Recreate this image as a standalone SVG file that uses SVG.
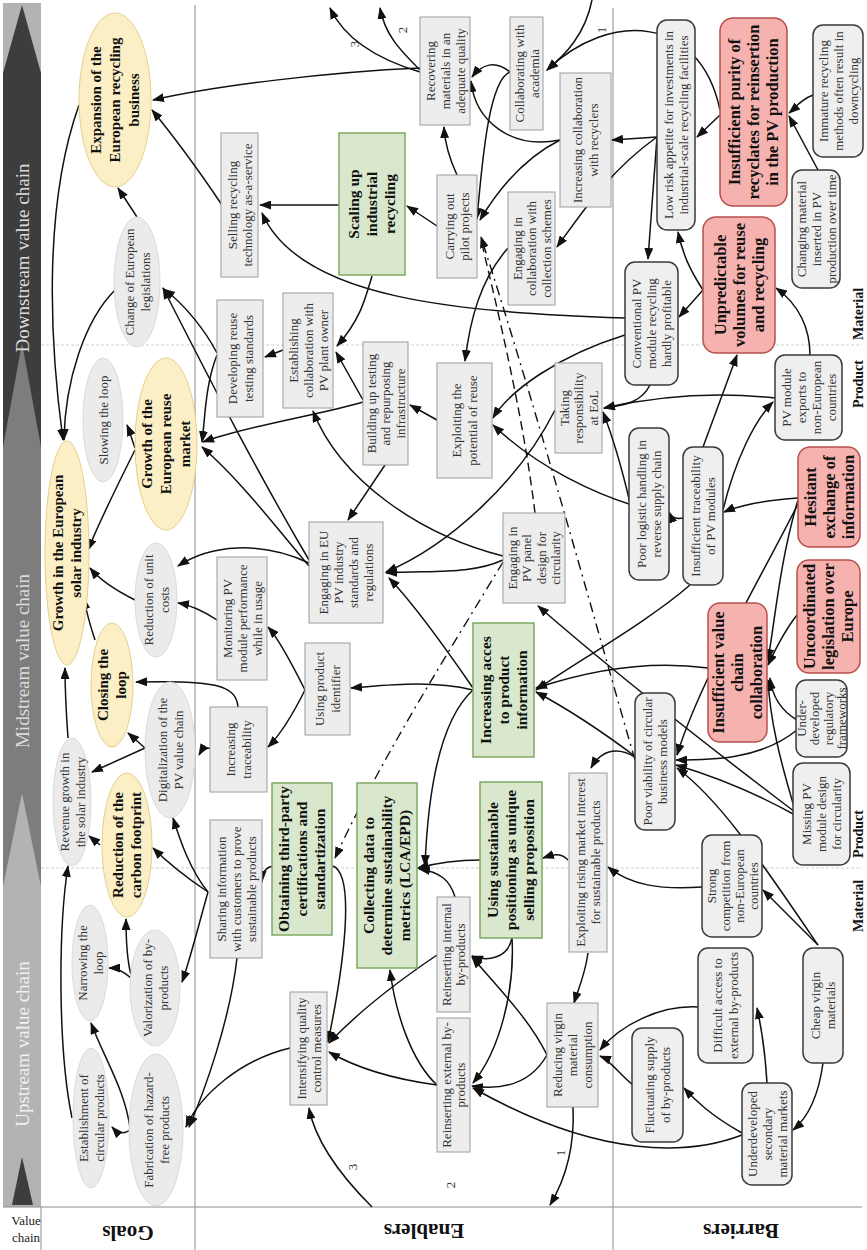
<svg xmlns="http://www.w3.org/2000/svg" width="867" height="1250" viewBox="0 0 867 1250">
<defs>
<style>
text{font-family:"Liberation Serif","Times New Roman",serif;text-anchor:middle}
.t{font-size:13px;fill:#333}
.tb{font-size:15.5px;font-weight:bold;fill:#111}
.ty{font-size:15px;font-weight:bold;fill:#111}
.tr{font-size:16.5px;font-weight:bold;fill:#111}
.ge{fill:#ebebeb;stroke:#dadada;stroke-width:1}
.gy{fill:#fcefc6;stroke:#e3d18f;stroke-width:1}
.eb{fill:#ededed;stroke:#9c9c9c;stroke-width:1}
.gb{fill:#d9e8cd;stroke:#7fa862;stroke-width:1.5}
.bb{fill:#efefef;stroke:#3a3a3a;stroke-width:1.5}
.rb{fill:#f6b2af;stroke:#b8504c;stroke-width:1.5}
.c{fill:none;stroke:#111;stroke-width:1.5;marker-end:url(#ah)}
.dd{fill:none;stroke:#111;stroke-width:1.4;stroke-dasharray:10,5,2,5}
.ds{fill:none;stroke:#111;stroke-width:1.4;stroke-dasharray:9,5}
.vc{font-size:19px;fill:#dcdcdc}
.hd{font-size:21px;font-weight:bold;fill:#111}
.rw{font-size:14px;font-weight:bold;fill:#111}
.grid{stroke:#8c8c8c;stroke-width:1}
.row{stroke:#cfcfcf;stroke-width:1;stroke-dasharray:3,2}
</style>
<marker id="ah" viewBox="0 0 12 9" refX="11" refY="4.5" markerWidth="12" markerHeight="9" markerUnits="userSpaceOnUse" orient="auto"><path d="M0,0 L12,4.5 L0,9 z" fill="#111"/></marker>
</defs>
<rect width="867" height="1250" fill="#fff"/>

<!-- value chain strip -->
<g id="value-chain">
<rect x="3" y="3" width="38" height="70" fill="#b3b3b3"/>
<polygon points="22,5 41,73 3,73" fill="#3d3d3d"/>
<rect x="3" y="73" width="38" height="374" fill="#3d3d3d"/>
<polygon points="22,343 41,447 41,887 3,887 3,447" fill="#7d7d7d"/>
<polygon points="22,793 41,887 41,1207 3,1207 3,887" fill="#b3b3b3"/>
<polygon points="22,1157 33,1205 12,1205" fill="#3d3d3d"/>
<text class="vc" transform="translate(29,258) rotate(-90)">Downstream value chain</text>
<text class="vc" transform="translate(29,661) rotate(-90)">Midstream value chain</text>
<text class="vc" transform="translate(29,1044) rotate(-90)" style="fill:#f0f0f0">Upstream value chain</text>
</g>

<!-- table grid -->
<g id="grid">
<line class="grid" x1="195" y1="5" x2="195" y2="1250"/>
<line class="grid" x1="613" y1="8" x2="613" y2="1250"/>
<line class="grid" x1="3" y1="1207" x2="862" y2="1207"/>
<line class="grid" x1="41" y1="1207" x2="41" y2="1250"/>
<line class="row" x1="41" y1="345" x2="862" y2="345"/>
<line class="row" x1="41" y1="868" x2="862" y2="868"/>
<text class="t" x="26" y="1225" style="fill:#222">Value</text>
<text class="t" x="26" y="1242" style="fill:#222">chain</text>
<text class="hd" transform="translate(128,1233) rotate(180)" y="7">Goals</text>
<text class="hd" transform="translate(424,1231) rotate(180)" y="7">Enablers</text>
<text class="hd" transform="translate(741,1231) rotate(180)" y="7">Barriers</text>
<text class="rw" transform="translate(858,314) rotate(-90)" y="5">Material</text>
<text class="rw" transform="translate(858,384) rotate(-90)" y="5">Product</text>
<text class="rw" transform="translate(858,834) rotate(-90)" y="5">Product</text>
<text class="rw" transform="translate(858,906) rotate(-90)" y="5">Material</text>
</g>

<!-- connectors -->
<g id="connectors">
<path class="c" d="M420,68 C330,72 220,85 153,100"/>
<path class="c" d="M222,205 Q185,150 152,110"/>
<path class="c" d="M137,217 L118,188"/>
<path class="c" d="M79,105 C45,200 48,330 63,440"/>
<path class="c" d="M115,290 C85,320 65,380 64,440"/>
<path class="c" d="M339,205 L260,205"/>
<path class="c" d="M625,318 C460,312 300,300 262,213"/>
<path class="c" d="M420,72 C380,60 345,40 330,8"/>
<path class="c" d="M420,70 C400,50 385,35 380,8"/>
<path class="c" d="M592,0 C585,35 565,55 547,70"/>
<path class="c" d="M720,110 C700,15 610,10 547,70"/>
<path class="c" d="M720,115 L697,137"/>
<path class="c" d="M813,95 C800,100 795,108 789,113"/>
<path class="c" d="M818,170 L789,116"/>
<path class="c" d="M657,137 L612,140"/>
<path class="c" d="M657,137 C610,170 580,215 557,247"/>
<path class="c" d="M657,137 L648,259"/>
<path class="c" d="M703,290 C690,270 683,255 678,232"/>
<path class="c" d="M703,290 L679,317"/>
<path class="c" d="M625,335 C560,355 510,390 493,418"/>
<path class="c" d="M650,385 C640,405 620,405 604,408"/>
<path class="c" d="M775,398 C700,390 640,400 604,408"/>
<path class="c" d="M810,355 C810,330 800,305 776,288"/>
<path class="c" d="M630,503 C620,460 610,430 603,412"/>
<path class="c" d="M632,505 C600,495 540,470 493,425"/>
<path class="c" d="M683,518 Q672,520 669,512"/>
<path class="c" d="M703,447 L737,355"/>
<path class="c" d="M723,510 C735,460 755,420 773,402"/>
<path class="c" d="M798,498 C770,500 740,505 724,512"/>
<path class="c" d="M798,500 C780,560 775,620 768,660"/>
<path class="c" d="M797,615 C785,630 775,650 768,665"/>
<path class="c" d="M797,720 C780,710 772,695 770,678"/>
<path class="c" d="M795,810 C780,760 770,720 768,680"/>
<path class="c" d="M797,730 C760,760 710,760 676,760"/>
<path class="c" d="M795,815 C750,790 710,775 676,765"/>
<path class="c" d="M800,500 C760,580 700,680 677,755"/>
<path class="c" d="M818,945 C760,860 720,800 677,768"/>
<path class="c" d="M818,945 L763,890"/>
<path class="c" d="M823,1063 C818,1100 805,1120 793,1130"/>
<path class="c" d="M767,1083 C765,1050 762,1030 757,1008"/>
<path class="c" d="M742,1133 C710,1115 695,1100 684,1088"/>
<path class="c" d="M742,1135 C690,1155 600,1160 473,1088"/>
<path class="c" d="M698,1007 C660,1005 620,1025 600,1050"/>
<path class="c" d="M633,1085 C620,1075 610,1060 600,1056"/>
<path class="c" d="M702,887 C660,890 630,885 608,867"/>
<path class="c" d="M635,757 C615,745 600,752 591,768"/>
<path class="c" d="M588,953 C585,975 578,990 574,1003"/>
<path class="c" d="M568,860 C560,852 552,855 543,858"/>
<path class="c" d="M480,860 C460,860 440,862 418,868"/>
<path class="c" d="M455,897 C450,880 440,872 419,869"/>
<path class="c" d="M473,690 C440,720 428,790 425,866"/>
<path class="c" d="M473,690 C430,680 390,685 351,688"/>
<path class="c" d="M305,690 C295,670 280,640 268,627"/>
<path class="c" d="M305,690 C295,710 280,735 268,747"/>
<path class="c" d="M217,620 C205,612 190,605 178,603"/>
<path class="c" d="M309,563 C260,540 210,545 178,566"/>
<path class="c" d="M309,566 C270,520 240,480 202,447"/>
<path class="c" d="M309,560 C250,460 200,360 163,288"/>
<path class="c" d="M217,353 C205,330 185,305 164,289"/>
<path class="c" d="M217,355 C205,385 205,420 202,442"/>
<path class="c" d="M363,402 C320,415 250,425 203,442"/>
<path class="c" d="M363,400 L336,352"/>
<path class="c" d="M372,276 C365,300 360,320 337,346"/>
<path class="c" d="M283,350 L265,357"/>
<path class="c" d="M503,556 C420,535 340,480 313,411"/>
<path class="c" d="M437,420 L410,405"/>
<path class="c" d="M385,465 L348,520"/>
<path class="c" d="M555,410 C520,480 450,545 386,572"/>
<path class="c" d="M503,560 C470,575 430,570 386,573"/>
<path class="c" d="M473,688 C440,640 410,600 389,578"/>
<path class="c" d="M508,248 C480,280 470,320 465,361"/>
<path class="c" d="M437,226 L407,206"/>
<path class="c" d="M457,175 C450,160 445,145 444,127"/>
<path class="c" d="M510,72 C495,60 482,64 472,77"/>
<path class="c" d="M510,72 C490,80 483,150 477,219"/>
<path class="c" d="M560,140 C510,150 475,120 471,81"/>
<path class="c" d="M560,140 C520,160 495,195 480,220"/>
<path class="dd" d="M635,760 C600,640 540,420 481,237" style="marker-end:url(#ah)"/>
<path class="ds" d="M535,513 C525,430 505,340 481,240"/>
<path class="dd" d="M503,562 C450,650 380,760 335,858" style="marker-end:url(#ah)"/>
<path class="c" d="M333,866 C355,875 345,960 328,1042"/>
<path class="c" d="M273,866 Q262,868 262,882"/>
<path class="c" d="M437,955 C400,980 360,1010 329,1043"/>
<path class="c" d="M437,1085 C400,1080 360,1070 329,1052"/>
<path class="c" d="M437,1085 C410,1060 395,1010 390,970"/>
<path class="c" d="M547,1055 C530,1020 500,990 472,957"/>
<path class="c" d="M547,1055 C530,1085 500,1090 472,1086"/>
<path class="c" d="M512,938 C508,958 488,962 472,956"/>
<path class="c" d="M512,938 C515,990 500,1050 473,1083"/>
<path class="c" d="M573,1107 C575,1150 565,1180 550,1205"/>
<path class="c" d="M372,1207 C340,1175 315,1140 309,1108"/>
<path class="c" d="M290,1048 C240,1060 200,1095 186,1127"/>
<path class="c" d="M237,958 C230,1020 205,1090 189,1127"/>
<path class="c" d="M208,892 C200,920 190,960 182,982"/>
<path class="c" d="M208,892 C190,880 170,865 153,848"/>
<path class="c" d="M208,892 C190,870 180,840 173,818"/>
<path class="c" d="M131,975 C127,960 126,940 126,919"/>
<path class="c" d="M131,978 C122,970 115,968 109,968"/>
<path class="c" d="M132,1128 Q122,1138 112,1127"/>
<path class="c" d="M130,1128 C125,1090 105,1060 91,1023"/>
<path class="c" d="M72,1118 C58,1050 58,930 68,866"/>
<path class="c" d="M100,845 L89,836"/>
<path class="c" d="M145,748 L128,733"/>
<path class="c" d="M145,748 L92,772"/>
<path class="c" d="M238,707 C236,685 215,680 136,682"/>
<path class="c" d="M210,748 Q203,748 199,755"/>
<path class="c" d="M68,738 C66,710 65,690 65,668"/>
<path class="c" d="M95,640 C90,625 86,610 84,598"/>
<path class="c" d="M135,600 C115,590 100,580 90,568"/>
<path class="c" d="M135,448 C132,440 130,432 127,425"/>
<path class="c" d="M135,450 C120,480 100,520 88,550"/>
<path class="c" d="M708,668 C650,660 590,670 536,688"/>
<path class="c" d="M690,585 C650,620 580,660 536,690"/>
<path class="c" d="M636,757 C600,730 570,710 536,692"/>
<path class="c" d="M795,812 C700,740 600,660 538,606"/>
<text class="t" transform="translate(354,44) rotate(-90)" y="4.6">3</text>
<text class="t" transform="translate(402,30) rotate(-90)" y="4.6">2</text>
<text class="t" transform="translate(601,30) rotate(-90)" y="4.6">1</text>
<text class="t" transform="translate(352,1167) rotate(-90)" y="4.6">3</text>
<text class="t" transform="translate(450,1185) rotate(-90)" y="4.6">2</text>
<text class="t" transform="translate(560,1153) rotate(-90)" y="4.6">1</text>
</g>

<!-- goals -->
<g id="g1" transform="translate(115,100) rotate(-90)"><ellipse class="gy" rx="87" ry="36"/><text class="ty"><tspan x="0" y="-13.8">Expansion of the</tspan><tspan x="0" y="5.2">European recycling</tspan><tspan x="0" y="24.2">business</tspan></text></g>
<g id="g2" transform="translate(137,282) rotate(-90)"><ellipse class="ge" rx="65" ry="23"/><text class="t"><tspan x="0" y="-3.4">Change of European</tspan><tspan x="0" y="12.6">legislations</tspan></text></g>
<g id="g3" transform="translate(67,553) rotate(-90)"><ellipse class="gy" rx="112" ry="22"/><text class="ty"><tspan x="0" y="-3.8">Growth in the European</tspan><tspan x="0" y="14.2">solar industry</tspan></text></g>
<g id="g4" transform="translate(103,420) rotate(-90)"><ellipse class="ge" rx="62" ry="20"/><text class="t"><tspan x="0" y="4.6">Slowing the loop</tspan></text></g>
<g id="g5" transform="translate(166,444) rotate(-90)"><ellipse class="gy" rx="86" ry="31"/><text class="ty"><tspan x="0" y="-13.8">Growth of the</tspan><tspan x="0" y="5.2">European reuse</tspan><tspan x="0" y="24.2">market</tspan></text></g>
<g id="g6" transform="translate(156,600) rotate(-90)"><ellipse class="ge" rx="57" ry="21"/><text class="t"><tspan x="0" y="-3.4">Reduction of unit</tspan><tspan x="0" y="12.6">costs</tspan></text></g>
<g id="g7" transform="translate(112,685) rotate(-90)"><ellipse class="gy" rx="62" ry="21"/><text class="ty"><tspan x="0" y="-3.8">Closing the</tspan><tspan x="0" y="14.2">loop</tspan></text></g>
<g id="g8" transform="translate(72,802) rotate(-90)"><ellipse class="ge" rx="64" ry="19"/><text class="t"><tspan x="0" y="-3.4">Revenue growth in</tspan><tspan x="0" y="12.6">the solar industry</tspan></text></g>
<g id="g9" transform="translate(170,750) rotate(-90)"><ellipse class="ge" rx="68" ry="25"/><text class="t"><tspan x="0" y="-3.4">Digitalization of the</tspan><tspan x="0" y="12.6">PV value chain</tspan></text></g>
<g id="g10" transform="translate(127,845) rotate(-90)"><ellipse class="gy" rx="72" ry="25"/><text class="ty"><tspan x="0" y="-3.8">Reduction of the</tspan><tspan x="0" y="14.2">carbon footprint</tspan></text></g>
<g id="g11" transform="translate(90,963) rotate(-90)"><ellipse class="ge" rx="58" ry="18"/><text class="t"><tspan x="0" y="-3.4">Narrowing the</tspan><tspan x="0" y="12.6">loop</tspan></text></g>
<g id="g12" transform="translate(155,988) rotate(-90)"><ellipse class="ge" rx="58" ry="25"/><text class="t"><tspan x="0" y="-3.4">Valorization of by-</tspan><tspan x="0" y="12.6">products</tspan></text></g>
<g id="g13" transform="translate(91,1118) rotate(-90)"><ellipse class="ge" rx="70" ry="18"/><text class="t"><tspan x="0" y="-3.4">Establishment of</tspan><tspan x="0" y="12.6">circular products</tspan></text></g>
<g id="g14" transform="translate(156,1130) rotate(-90)"><ellipse class="ge" rx="76" ry="27"/><text class="t"><tspan x="0" y="-3.4">Fabrication of hazard-</tspan><tspan x="0" y="12.6">free products</tspan></text></g>

<!-- enablers -->
<g id="e1" transform="translate(445,71) rotate(-90)"><rect class="eb" x="-54" y="-25" width="108" height="50"/><text class="t"><tspan x="0" y="-10.4">Recovering</tspan><tspan x="0" y="4.6">materials in an</tspan><tspan x="0" y="19.6">adequate quality</tspan></text></g>
<g id="e2" transform="translate(526.5,73.5) rotate(-90)"><rect class="eb" x="-56.5" y="-16.5" width="113" height="33"/><text class="t"><tspan x="0" y="-2.9">Collaborating with</tspan><tspan x="0" y="12.1">academia</tspan></text></g>
<g id="e3" transform="translate(585.5,140) rotate(-90)"><rect class="eb" x="-67" y="-25.5" width="134" height="51"/><text class="t"><tspan x="0" y="-3.4">Increasing collaboration</tspan><tspan x="0" y="12.6">with recyclers</tspan></text></g>
<g id="e4" transform="translate(372,204) rotate(-90)"><rect class="gb" x="-71" y="-33" width="142" height="66"/><text class="tb"><tspan x="0" y="-12.6">Scaling up</tspan><tspan x="0" y="5.4">industrial</tspan><tspan x="0" y="23.4">recycling</tspan></text></g>
<g id="e5" transform="translate(457,226.5) rotate(-90)"><rect class="eb" x="-51.5" y="-20" width="103" height="40"/><text class="t"><tspan x="0" y="-2.9">Carrying out</tspan><tspan x="0" y="12.1">pilot projects</tspan></text></g>
<g id="e6" transform="translate(531.5,248.5) rotate(-90)"><rect class="eb" x="-56.5" y="-23.5" width="113" height="47"/><text class="t"><tspan x="0" y="-9.9">Engaging in</tspan><tspan x="0" y="4.6">collaboration with</tspan><tspan x="0" y="19.1">collection schemes</tspan></text></g>
<g id="e7" transform="translate(239.5,205) rotate(-90)"><rect class="eb" x="-72" y="-18.5" width="144" height="37"/><text class="t"><tspan x="0" y="-2.9">Selling recycling</tspan><tspan x="0" y="12.1">technology as-a-service</tspan></text></g>
<g id="e8" transform="translate(240,358.5) rotate(-90)"><rect class="eb" x="-58.5" y="-23" width="117" height="46"/><text class="t"><tspan x="0" y="-3.4">Developing reuse</tspan><tspan x="0" y="12.6">testing standards</tspan></text></g>
<g id="e9" transform="translate(308,350.5) rotate(-90)"><rect class="eb" x="-57.5" y="-25" width="115" height="50"/><text class="t"><tspan x="0" y="-10.4">Establishing</tspan><tspan x="0" y="4.6">collaboration with</tspan><tspan x="0" y="19.6">PV plant owner</tspan></text></g>
<g id="e10" transform="translate(385.5,403.5) rotate(-90)"><rect class="eb" x="-61.5" y="-22.5" width="123" height="45"/><text class="t"><tspan x="0" y="-9.9">Building up testing</tspan><tspan x="0" y="4.6">and repurposing</tspan><tspan x="0" y="19.1">infrastructure</tspan></text></g>
<g id="e11" transform="translate(464.5,420.5) rotate(-90)"><rect class="eb" x="-57.5" y="-27.5" width="115" height="55"/><text class="t"><tspan x="0" y="-3.4">Exploiting the</tspan><tspan x="0" y="12.6">potential of reuse</tspan></text></g>
<g id="e12" transform="translate(578.5,408) rotate(-90)"><rect class="eb" x="-45" y="-23.5" width="90" height="47"/><text class="t"><tspan x="0" y="-9.9">Taking</tspan><tspan x="0" y="4.6">responsibility</tspan><tspan x="0" y="19.1">at EoL</tspan></text></g>
<g id="e13" transform="translate(346,572.5) rotate(-90)"><rect class="eb" x="-50.5" y="-37" width="101" height="74"/><text class="t"><tspan x="0" y="-17.9">Engaging in EU</tspan><tspan x="0" y="-2.9">PV industry</tspan><tspan x="0" y="12.1">standards and</tspan><tspan x="0" y="27.1">regulations</tspan></text></g>
<g id="e14" transform="translate(534,558) rotate(-90)"><rect class="eb" x="-45" y="-31" width="90" height="62"/><text class="t"><tspan x="0" y="-17.2">Engaging in</tspan><tspan x="0" y="-2.7">PV panel</tspan><tspan x="0" y="11.8">design for</tspan><tspan x="0" y="26.3">circularity</tspan></text></g>
<g id="e15" transform="translate(242,618.5) rotate(-90)"><rect class="eb" x="-61.5" y="-25" width="123" height="50"/><text class="t"><tspan x="0" y="-10.4">Monitoring PV</tspan><tspan x="0" y="4.6">module performance</tspan><tspan x="0" y="19.6">while in usage</tspan></text></g>
<g id="e16" transform="translate(238.5,749.5) rotate(-90)"><rect class="eb" x="-42.5" y="-28.5" width="85" height="57"/><text class="t"><tspan x="0" y="-3.4">Increasing</tspan><tspan x="0" y="12.6">traceability</tspan></text></g>
<g id="e17" transform="translate(327.5,689) rotate(-90)"><rect class="eb" x="-46" y="-22.5" width="92" height="45"/><text class="t"><tspan x="0" y="-3.4">Using product</tspan><tspan x="0" y="12.6">identifier</tspan></text></g>
<g id="e18" transform="translate(503.5,690) rotate(-90)"><rect class="gb" x="-67" y="-30.5" width="134" height="61"/><text class="tb"><tspan x="0" y="-12.6">Increasing acces</tspan><tspan x="0" y="5.4">to product</tspan><tspan x="0" y="23.4">information</tspan></text></g>
<g id="e19" transform="translate(302,859) rotate(-90)"><rect class="gb" x="-76" y="-30" width="152" height="60"/><text class="tb"><tspan x="0" y="-12.6">Obtaining third-party</tspan><tspan x="0" y="5.4">certifications and</tspan><tspan x="0" y="23.4">standartization</tspan></text></g>
<g id="e20" transform="translate(387,875.5) rotate(-90)"><rect class="gb" x="-92.5" y="-30" width="185" height="60"/><text class="tb"><tspan x="0" y="-12.6">Collecting data to</tspan><tspan x="0" y="5.4">determine sustainability</tspan><tspan x="0" y="23.4">metrics (LCA/EPD)</tspan></text></g>
<g id="e21" transform="translate(511,860) rotate(-90)"><rect class="gb" x="-78" y="-31" width="156" height="62"/><text class="tb"><tspan x="0" y="-12.6">Using sustainable</tspan><tspan x="0" y="5.4">positioning as unique</tspan><tspan x="0" y="23.4">selling proposition</tspan></text></g>
<g id="e22" transform="translate(588,862.5) rotate(-90)"><rect class="eb" x="-89.5" y="-19" width="179" height="38"/><text class="t"><tspan x="0" y="-2.9">Exploiting rising market interest</tspan><tspan x="0" y="12.1">for sustainable products</tspan></text></g>
<g id="e23" transform="translate(453.5,954.5) rotate(-90)"><rect class="eb" x="-57.5" y="-16.5" width="115" height="33"/><text class="t"><tspan x="0" y="-2.4">Reinserting internal</tspan><tspan x="0" y="11.6">by-products</tspan></text></g>
<g id="e24" transform="translate(308.5,1048.5) rotate(-90)"><rect class="eb" x="-56.5" y="-18.5" width="113" height="37"/><text class="t"><tspan x="0" y="-2.9">Intensifying quality</tspan><tspan x="0" y="12.1">control measures</tspan></text></g>
<g id="e25" transform="translate(453.5,1085) rotate(-90)"><rect class="eb" x="-67" y="-16.5" width="134" height="33"/><text class="t"><tspan x="0" y="-2.4">Reinserting external by-</tspan><tspan x="0" y="11.6">products</tspan></text></g>
<g id="e26" transform="translate(572.5,1055) rotate(-90)"><rect class="eb" x="-52" y="-25.5" width="104" height="51"/><text class="t"><tspan x="0" y="-10.4">Reducing virgin</tspan><tspan x="0" y="4.6">material</tspan><tspan x="0" y="19.6">consumption</tspan></text></g>
<g id="e27" transform="translate(236,889) rotate(-90)"><rect class="eb" x="-69" y="-26" width="138" height="52"/><text class="t"><tspan x="0" y="-10.4">Sharing information</tspan><tspan x="0" y="4.6">with customers to prove</tspan><tspan x="0" y="19.6">sustainable products</tspan></text></g>

<!-- barriers -->
<g id="b1" transform="translate(676,125) rotate(-90)"><rect class="bb" x="-105" y="-19" width="210" height="38" rx="10"/><text class="t"><tspan x="0" y="-2.9">Low risk appetite for investments in</tspan><tspan x="0" y="12.1">industrial-scale recycling facilities</tspan></text></g>
<g id="b2" transform="translate(753.5,112) rotate(-90)"><rect class="rb" x="-94" y="-33.5" width="188" height="67" rx="13"/><text class="tr"><tspan x="0" y="-13.2">Insufficient purity of</tspan><tspan x="0" y="5.8">recyclates for reinsertion</tspan><tspan x="0" y="24.8">in the PV production</tspan></text></g>
<g id="b3" transform="translate(838,91) rotate(-90)"><rect class="bb" x="-66" y="-25" width="132" height="50" rx="10"/><text class="t"><tspan x="0" y="-10.4">Immature recycling</tspan><tspan x="0" y="4.6">methods often result in</tspan><tspan x="0" y="19.6">downcycling</tspan></text></g>
<g id="b4" transform="translate(816,229) rotate(-90)"><rect class="bb" x="-59" y="-24" width="118" height="48" rx="10"/><text class="t"><tspan x="0" y="-10.4">Changing material</tspan><tspan x="0" y="4.6">inserted in PV</tspan><tspan x="0" y="19.6">production over time</tspan></text></g>
<g id="b5" transform="translate(739,285) rotate(-90)"><rect class="rb" x="-68" y="-36" width="136" height="72" rx="13"/><text class="tr"><tspan x="0" y="-13.2">Unpredictable</tspan><tspan x="0" y="5.8">volumes for reuse</tspan><tspan x="0" y="24.8">and recycling</tspan></text></g>
<g id="b6" transform="translate(651.5,323.5) rotate(-90)"><rect class="bb" x="-61.5" y="-26.5" width="123" height="53" rx="10"/><text class="t"><tspan x="0" y="-10.4">Conventional PV</tspan><tspan x="0" y="4.6">module recycling</tspan><tspan x="0" y="19.6">hardly profitable</tspan></text></g>
<g id="b7" transform="translate(808.5,397.5) rotate(-90)"><rect class="bb" x="-42.5" y="-33.5" width="85" height="67" rx="10"/><text class="t"><tspan x="0" y="-17.9">PV module</tspan><tspan x="0" y="-2.9">exports to</tspan><tspan x="0" y="12.1">non-European</tspan><tspan x="0" y="27.1">countries</tspan></text></g>
<g id="b8" transform="translate(649,504) rotate(-90)"><rect class="bb" x="-76" y="-20" width="152" height="40" rx="10"/><text class="t"><tspan x="0" y="-2.9">Poor logistic handling in</tspan><tspan x="0" y="12.1">reverse supply chain</tspan></text></g>
<g id="b9" transform="translate(703,516) rotate(-90)"><rect class="bb" x="-69" y="-20" width="138" height="40" rx="10"/><text class="t"><tspan x="0" y="-2.9">Insufficient traceability</tspan><tspan x="0" y="12.1">of PV modules</tspan></text></g>
<g id="b10" transform="translate(829,497) rotate(-90)"><rect class="rb" x="-50" y="-31" width="100" height="62" rx="12"/><text class="tr"><tspan x="0" y="-13.2">Hesitant</tspan><tspan x="0" y="5.8">exchange of</tspan><tspan x="0" y="24.8">information</tspan></text></g>
<g id="b11" transform="translate(828.5,616.5) rotate(-90)"><rect class="rb" x="-56.5" y="-31.5" width="113" height="63" rx="12"/><text class="tr"><tspan x="0" y="-13.2">Uncoordinated</tspan><tspan x="0" y="5.8">legislation over</tspan><tspan x="0" y="24.8">Europe</tspan></text></g>
<g id="b12" transform="translate(737.5,672.5) rotate(-90)"><rect class="rb" x="-69.5" y="-29.5" width="139" height="59" rx="12"/><text class="tr"><tspan x="0" y="-13.2">Insufficient value</tspan><tspan x="0" y="5.8">chain</tspan><tspan x="0" y="24.8">collaboration</tspan></text></g>
<g id="b13" transform="translate(821.5,718.5) rotate(-90)"><rect class="bb" x="-38.5" y="-25.5" width="77" height="51" rx="10"/><text class="t"><tspan x="0" y="-15.7">Under-</tspan><tspan x="0" y="-2.2">developed</tspan><tspan x="0" y="11.4">regulatory</tspan><tspan x="0" y="24.9">frameworks</tspan></text></g>
<g id="b14" transform="translate(655,761.5) rotate(-90)"><rect class="bb" x="-68.5" y="-20" width="137" height="40" rx="10"/><text class="t"><tspan x="0" y="-2.9">Poor viability of circular</tspan><tspan x="0" y="12.1">business models</tspan></text></g>
<g id="b15" transform="translate(821.5,814) rotate(-90)"><rect class="bb" x="-51" y="-28.5" width="102" height="57" rx="10"/><text class="t"><tspan x="0" y="-10.4">Missing PV</tspan><tspan x="0" y="4.6">module design</tspan><tspan x="0" y="19.6">for circularity</tspan></text></g>
<g id="b16" transform="translate(732,886) rotate(-90)"><rect class="bb" x="-51" y="-30" width="102" height="60" rx="10"/><text class="t"><tspan x="0" y="-16.4">Strong</tspan><tspan x="0" y="-2.4">competition from</tspan><tspan x="0" y="11.6">non-European</tspan><tspan x="0" y="25.6">countries</tspan></text></g>
<g id="b17" transform="translate(725.5,1005.5) rotate(-90)"><rect class="bb" x="-57.5" y="-27.5" width="115" height="55" rx="10"/><text class="t"><tspan x="0" y="-3.4">Difficult access to</tspan><tspan x="0" y="12.6">external by-products</tspan></text></g>
<g id="b18" transform="translate(823,1005.5) rotate(-90)"><rect class="bb" x="-57.5" y="-20" width="115" height="40" rx="10"/><text class="t"><tspan x="0" y="-2.9">Cheap virgin</tspan><tspan x="0" y="12.1">materials</tspan></text></g>
<g id="b19" transform="translate(657.5,1085) rotate(-90)"><rect class="bb" x="-57" y="-25.5" width="114" height="51" rx="10"/><text class="t"><tspan x="0" y="-3.4">Fluctuating supply</tspan><tspan x="0" y="12.6">of by-products</tspan></text></g>
<g id="b20" transform="translate(767,1134) rotate(-90)"><rect class="bb" x="-51" y="-25" width="102" height="50" rx="10"/><text class="t"><tspan x="0" y="-10.4">Underdeveloped</tspan><tspan x="0" y="4.6">secondary</tspan><tspan x="0" y="19.6">material markets</tspan></text></g>
</svg>
